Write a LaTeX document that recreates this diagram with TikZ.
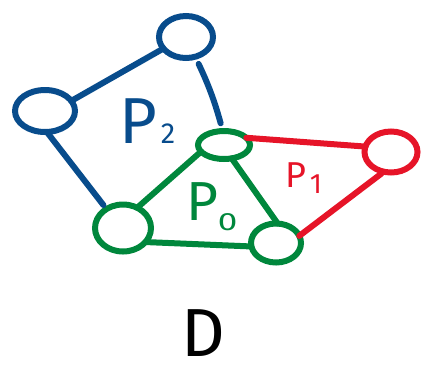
\documentclass[tikz,border=0pt]{standalone}
\usepackage{fontspec}
\setmainfont{Fira Sans}
\usetikzlibrary{shapes.geometric}
\definecolor{pblue}{RGB}{8,76,140}
\definecolor{pgreen}{RGB}{0,135,60}
\definecolor{pred}{RGB}{230,20,40}
\begin{document}
\begin{tikzpicture}[x=1pt,y=-1pt,line width=6pt,line cap=round,
  vert/.style={ellipse,draw,line width=6pt,inner sep=0pt,outer sep=0pt},
  edge/.style={line width=6pt,line cap=round}]
\useasboundingbox (0,0) rectangle (422,368);
% vertices
\node[vert,pblue,minimum width=54pt,minimum height=42pt] (bt) at (186,37) {};
\node[vert,pblue,minimum width=60pt,minimum height=42pt] (bl) at (45,111) {};
\node[vert,pgreen,minimum width=52pt,minimum height=28pt] (gt) at (224,145) {};
\node[vert,pred,minimum width=53pt,minimum height=41pt] (rd) at (391,152) {};
\node[vert,pgreen,minimum width=56pt,minimum height=47pt] (gl) at (123,228) {};
\node[vert,pgreen,minimum width=50pt,minimum height=39pt] (gb) at (276,243) {};
% blue edges
\draw[edge,pblue] (bt.207) -- (bl.21);
\draw[edge,pblue,shorten >=5pt] (bl.-85) -- (gl.131);
\draw[edge,pblue,shorten <=8pt,shorten >=8pt] (bt.-65) to[bend left=5] (gt.95);
% red edges
\draw[edge,pred] (gt.18) -- (rd.168);
\draw[edge,pred,shorten <=3pt] (rd.-110) -- (gb.17);
% green edges
\draw[edge,pgreen] (gt.196) -- (gl.55);
\draw[edge,pgreen] (gt.-60) -- (gb.85);
\draw[edge,pgreen] (gl.-32) -- (gb.188);
% labels
\node[pblue,anchor=base west,inner sep=0pt] (l2) at (116,143)
  {\fontsize{65}{65}\selectfont P\hspace{4pt}{\fontsize{29}{29}\selectfont 2}};
\node[pgreen,anchor=base west,inner sep=0pt] (l0) at (183,220)
  {\fontsize{55}{55}\selectfont P{\fontsize{25}{25}\selectfont\raisebox{-10pt}{\scalebox{1.4}[1]{0}}}};
\node[pred,anchor=base west,inner sep=0pt] (l1) at (282,187)
  {\fontsize{36}{36}\selectfont P\hspace{4pt}{\fontsize{28}{28}\selectfont\raisebox{-6pt}{1}}};
\node[black,anchor=base west,inner sep=0pt] (ld) at (178,356)
  {\fontsize{68}{68}\selectfont D};
\end{tikzpicture}
\end{document}
